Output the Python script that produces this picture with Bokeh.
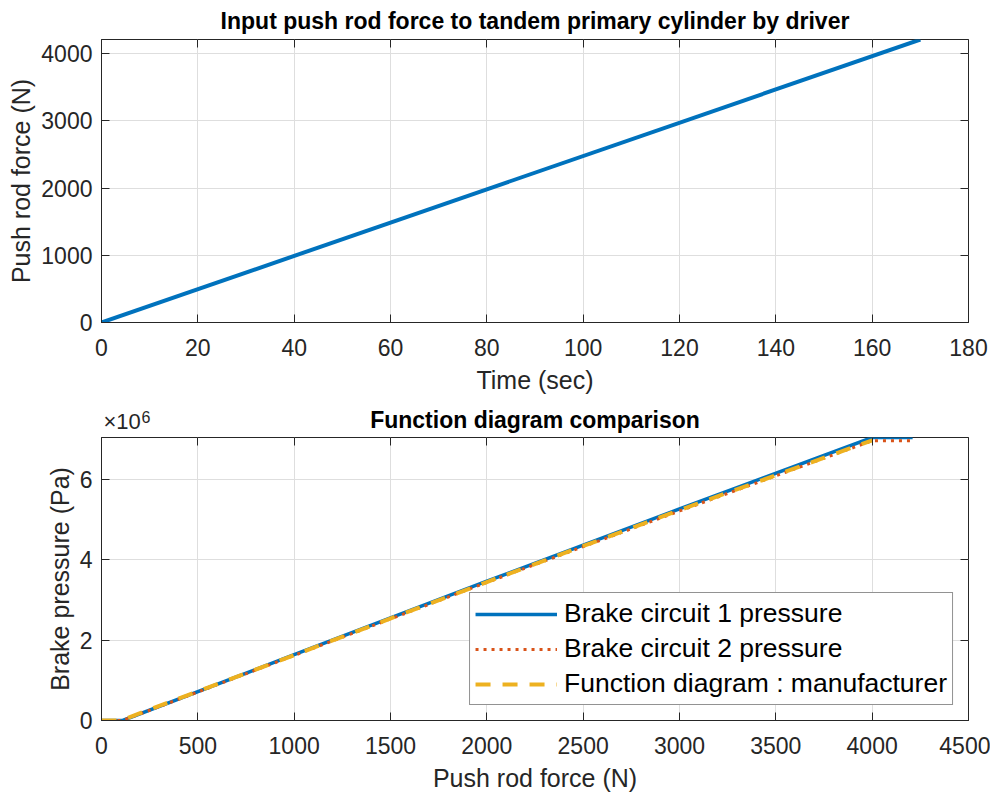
from bokeh.plotting import figure
from bokeh.layouts import column
from bokeh.models import (LinearAxis, FixedTicker, Legend, LegendItem, Title,
                          Range1d, CustomJSTickFormatter)
from bokeh.embed import file_html
from bokeh.resources import INLINE

# ---------------- data ----------------
time_s = [0, 170]
push_force = [0, 4210]

c1_force = [0, 110, 1000, 2000, 3000, 4000, 4210]
c1_press = [0, 0, 1.64e6, 3.47e6, 5.27e6, 7.05e6, 7.05e6]
c2_force = [0, 110, 1000, 2000, 3000, 4000, 4210]
c2_press = [0, 0, 1.62e6, 3.44e6, 5.22e6, 6.97e6, 6.97e6]
mf_force = [0, 100, 1000, 2000, 3000, 4000]
mf_press = [0, 0, 1.63e6, 3.45e6, 5.24e6, 6.98e6]

top_xticks = [0, 20, 40, 60, 80, 100, 120, 140, 160, 180]
top_yticks = [0, 1000, 2000, 3000, 4000]
bot_xticks = [0, 500, 1000, 1500, 2000, 2500, 3000, 3500, 4000, 4500]
bot_yticks = [0, 2e6, 4e6, 6e6]

FONT = "Liberation Sans"
TXT = "#262626"
GRID = "#dedede"
BLUE = "#0072BD"
ORANGE = "#D95319"
YELLOW = "#EDB120"
FRAME_W = 867
FRAME_H = 283


def make_title(text, standoff, bold=True, size="23px", align="center",
               color="#000000", offset=0):
    t = Title(text=text, align=align, standoff=standoff, offset=offset)
    t.text_font = FONT
    t.text_font_size = size
    t.text_font_style = "bold" if bold else "normal"
    t.text_color = color
    return t


def style(p, xticks, yticks, xlabel, ylabel):
    p.outline_line_color = TXT
    p.outline_line_width = 1
    p.outline_line_alpha = 1
    p.xgrid.grid_line_color = GRID
    p.ygrid.grid_line_color = GRID
    p.xaxis.ticker = FixedTicker(ticks=xticks)
    p.yaxis.ticker = FixedTicker(ticks=yticks)
    for ax in (p.xaxis[0], p.yaxis[0]):
        ax.axis_line_color = TXT
        ax.major_tick_line_color = TXT
        ax.major_tick_in = 8
        ax.major_tick_out = 0
        ax.minor_tick_line_color = None
        ax.major_label_text_font = FONT
        ax.major_label_text_font_size = "23px"
        ax.major_label_text_color = TXT
        ax.axis_label_text_font = FONT
        ax.axis_label_text_font_size = "25px"
        ax.axis_label_text_font_style = "normal"
        ax.axis_label_text_color = TXT
    p.xaxis.major_label_standoff = 16
    p.xaxis.axis_label_standoff = 7
    p.yaxis.major_label_standoff = 9
    p.yaxis.axis_label_standoff = 3
    p.xaxis.axis_label = xlabel
    p.yaxis.axis_label = ylabel
    # mirrored ticks on top and right (box on)
    for side, t in (("above", xticks), ("right", yticks)):
        ax = LinearAxis(ticker=FixedTicker(ticks=t),
                        formatter=CustomJSTickFormatter(code="return ''"))
        ax.axis_line_color = None
        ax.major_tick_line_color = TXT
        ax.major_tick_in = 8
        ax.major_tick_out = 0
        ax.minor_tick_line_color = None
        ax.major_label_text_font_size = "0px"
        ax.major_label_standoff = 0
        p.add_layout(ax, side)


p1 = figure(frame_width=FRAME_W, frame_height=FRAME_H,
            x_range=Range1d(0, 180), y_range=Range1d(0, 4210),
            title=None,
            output_backend="svg", toolbar_location=None,
            min_border_left=101, min_border_right=22,
            min_border_top=38, min_border_bottom=77)
style(p1, top_xticks, top_yticks, "Time (sec)", "Push rod force (N)")
p1.add_layout(make_title("Input push rod force to tandem primary cylinder by driver", 11), "above")
p1.line(time_s, push_force, line_color=BLUE, line_width=4)

p2 = figure(frame_width=FRAME_W, frame_height=FRAME_H,
            x_range=Range1d(0, 4500), y_range=Range1d(0, 7.05e6),
            title=None,
            output_backend="svg", toolbar_location=None,
            min_border_left=101, min_border_right=22,
            min_border_top=38, min_border_bottom=67)
style(p2, bot_xticks, bot_yticks, "Push rod force (N)", "Brake pressure (Pa)")
p2.yaxis[0].formatter = CustomJSTickFormatter(code="return (tick/1e6).toFixed(0);")
p2.add_layout(make_title("Function diagram comparison", 10), "above")
# axis exponent (x10^6), drawn on the title row, left aligned
p2.add_layout(make_title("×10", -68, bold=False, size="22px", align="left",
                         color=TXT, offset=2), "above")
p2.add_layout(make_title("6", -47, bold=False, size="16px", align="left",
                         color=TXT, offset=40), "above")

r1 = p2.line(c1_force, c1_press, line_color=BLUE, line_width=3.5)
r2 = p2.line(c2_force, c2_press, line_color=ORANGE, line_width=3, line_dash="3 5")
r3 = p2.line(mf_force, mf_press, line_color=YELLOW, line_width=4, line_dash="15 12")

legend = Legend(items=[
    LegendItem(label="Brake circuit 1 pressure", renderers=[r1]),
    LegendItem(label="Brake circuit 2 pressure", renderers=[r2]),
    LegendItem(label="Function diagram : manufacturer", renderers=[r3]),
], location="bottom_right")
legend.margin = 15
legend.padding = 5
legend.spacing = 4
legend.glyph_width = 82
legend.glyph_height = 30
legend.label_height = 30
legend.label_standoff = 7
legend.label_text_font = FONT
legend.label_text_font_size = "26.5px"
legend.label_text_color = "#000000"
legend.border_line_color = TXT
legend.border_line_width = 1
legend.background_fill_color = "white"
legend.background_fill_alpha = 1
p2.add_layout(legend, "center")

layout = column(p1, p2, spacing=0)
open("out.html", "w").write(file_html(layout, INLINE))
